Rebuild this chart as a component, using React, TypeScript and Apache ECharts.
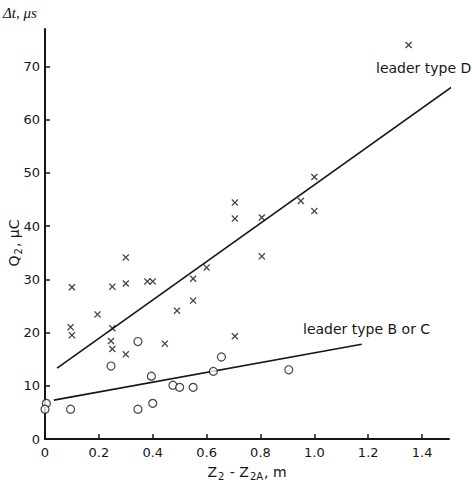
import React, { useEffect, useRef } from "react";
import * as echarts from "echarts";

const crossX = [1.35, 1.0, 1.0, 0.95, 0.705, 0.705, 0.805, 0.805, 0.6, 0.55, 0.55, 0.49, 0.705, 0.1, 0.25, 0.3, 0.3, 0.38, 0.4, 0.095, 0.1, 0.195, 0.25, 0.245, 0.25, 0.3, 0.445];
const crossY = [74.0, 49.2, 42.8, 44.7, 44.4, 41.4, 41.6, 34.3, 32.2, 30.1, 26.0, 24.1, 19.3, 28.5, 28.6, 34.1, 29.2, 29.6, 29.6, 21.0, 19.5, 23.4, 20.8, 18.4, 16.9, 15.9, 17.9];

const circleX = [0.005, 0.0, 0.095, 0.245, 0.345, 0.395, 0.345, 0.4, 0.475, 0.5, 0.55, 0.655, 0.625, 0.905];
const circleY = [6.7, 5.6, 5.6, 13.7, 18.3, 11.8, 5.6, 6.7, 10.1, 9.7, 9.7, 15.4, 12.7, 13.0];

const fitDX = [0.045, 1.515];
const fitDY = [13.3, 66.3];
const fitBCX = [0.033, 1.176];
const fitBCY = [7.3, 17.8];

const xTicks = [0, 0.2, 0.4, 0.6, 0.8, 1.0, 1.2, 1.4];
const yTicks = [0, 10, 20, 30, 40, 50, 60, 70];

const FONT = "DejaVu Sans";
const INK = "#161616";

const crossPath =
  "path://M0,1.3L1.3,0L5,3.7L8.7,0L10,1.3L6.3,5L10,8.7L8.7,10L5,6.3L1.3,10L0,8.7L3.7,5Z";

export default function App() {
  const ref = useRef<HTMLDivElement>(null);
  useEffect(() => {
    if (!ref.current) return;
    const chart = echarts.init(ref.current, null, { renderer: "svg" });
    const zip = (a: number[], b: number[]) => a.map((v, i) => [v, b[i]]);
    chart.setOption({
      animation: false,
      backgroundColor: "#fff",
      textStyle: { fontFamily: FONT },
      grid: { left: 45, right: 23, top: 29, bottom: 43, outerBoundsMode: "none", containLabel: false },
      xAxis: {
        type: "value",
        min: 0,
        max: 1.5,
        interval: 0.2,
        splitLine: { show: false },
        axisLine: { lineStyle: { color: INK, width: 2 } },
        axisTick: { inside: true, length: 5, lineStyle: { color: INK, width: 1.5 } },
        axisLabel: {
          color: INK,
          fontSize: 13,
          fontFamily: FONT,
          margin: 7,
          showMaxLabel: false,
          formatter: (v: number) =>
            xTicks.some((t) => Math.abs(t - v) < 1e-6) ? (v === 0 ? "0" : v.toFixed(1)) : "",
        },
        name: "{a|Z}{s|2}{a| - Z}{s|2A}{a|, m}",
        nameLocation: "middle",
        nameGap: 24,
        nameMoveOverlap: false,
        nameTextStyle: {
          color: INK,
          rich: {
            a: { fontSize: 14, fontFamily: FONT, color: INK },
            s: { fontSize: 10, fontFamily: FONT, color: INK, padding: [8, 1, 0, 1] },
          },
        },
      },
      yAxis: {
        type: "value",
        min: 0,
        max: 77,
        interval: 10,
        splitLine: { show: false },
        axisLine: { show: true, lineStyle: { color: INK, width: 2 } },
        axisTick: { show: true, inside: true, length: 5, lineStyle: { color: INK, width: 1.5 } },
        axisLabel: {
          color: INK,
          fontSize: 13,
          fontFamily: FONT,
          margin: 5,
          showMaxLabel: false,
          formatter: (v: number) => (yTicks.includes(v) ? String(v) : ""),
        },
        name: "{a|Q}{s|2}{a|, μC}",
        nameLocation: "middle",
        nameRotate: 90,
        nameGap: 22,
        nameMoveOverlap: false,
        nameTextStyle: {
          color: INK,
          padding: [0, 0, 0, -18],
          rich: {
            a: { fontSize: 14, fontFamily: FONT, color: INK },
            s: { fontSize: 10, fontFamily: FONT, color: INK, padding: [8, 1, 0, 1] },
          },
        },
      },
      graphic: [
        {
          type: "text",
          left: 3,
          top: 5,
          style: {
            text: "Δt, μs",
            font: "italic 15px 'Liberation Serif', 'DejaVu Serif', serif",
            fill: INK,
          },
        },
        {
          type: "text",
          left: 376,
          top: 61,
          style: { text: "leader type D", font: `14px '${FONT}'`, fill: INK },
        },
        {
          type: "text",
          left: 303,
          top: 322,
          style: { text: "leader type B or C", font: `14px '${FONT}'`, fill: INK },
        },
      ],
      series: [
        {
          type: "line",
          data: zip(fitDX, fitDY),
          symbol: "none",
          lineStyle: { color: INK, width: 1.6 },
          z: 1,
        },
        {
          type: "line",
          data: zip(fitBCX, fitBCY),
          symbol: "none",
          lineStyle: { color: INK, width: 1.6 },
          z: 1,
        },
        {
          type: "scatter",
          data: zip(crossX, crossY),
          symbol: crossPath,
          symbolSize: 7,
          itemStyle: { color: INK },
          z: 3,
        },
        {
          type: "scatter",
          data: zip(circleX, circleY),
          symbol: "circle",
          symbolSize: 8,
          itemStyle: { color: "#fff", borderColor: INK, borderWidth: 1.2 },
          z: 3,
        },
      ],
    });
    return () => chart.dispose();
  }, []);
  return <div ref={ref} style={{ width: 472, height: 482, position: "absolute", left: 0, top: 0 }} />;
}
